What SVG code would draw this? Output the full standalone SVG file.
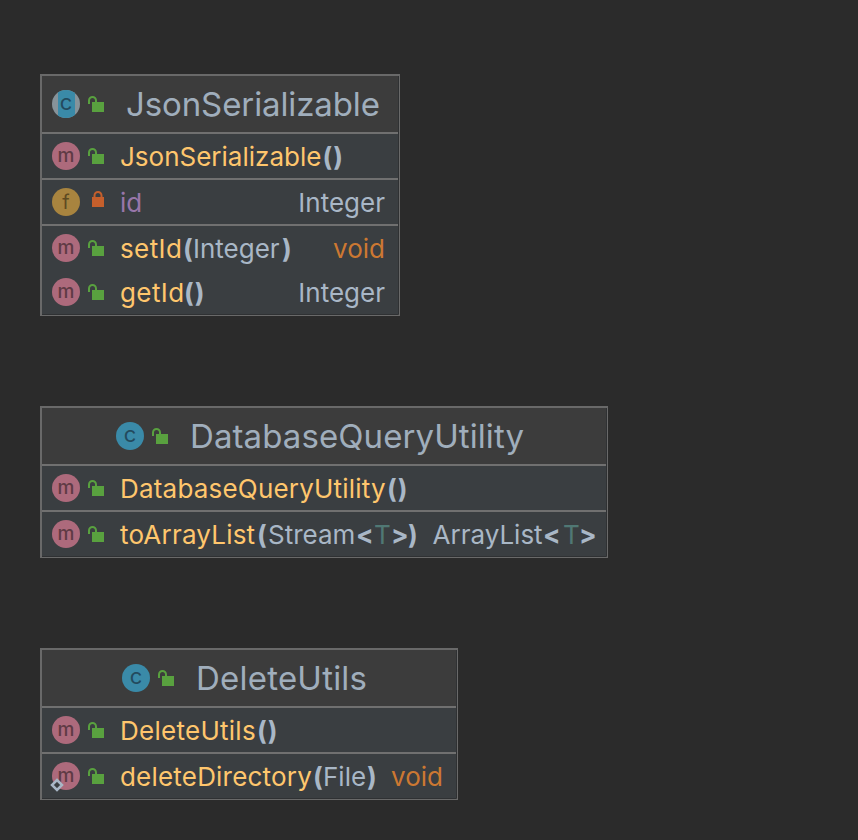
<svg xmlns="http://www.w3.org/2000/svg" xmlns:xlink="http://www.w3.org/1999/xlink" width="858" height="840" viewBox="0 0 858 840">
<style>
text{font-family:Inter,"Noto Sans",sans-serif;font-size:26px;fill:#a9b7c6}
.t{font-size:33px;fill:#a0aebc}
.n{fill:#ffc66d}
.p{fill:#a9b7c6}
.b{font-weight:700;fill:#a9b7c6}
.pp{letter-spacing:1px}
.v{fill:#cc7832}
.f{fill:#9876aa}
.g{fill:#507874}
.box{fill:#3a3e41;stroke:#696969;stroke-width:2}
.hd{fill:#3c3c3c}
.sep{stroke:#707070;stroke-width:2}
.edge{stroke:#2f3133;stroke-width:1;fill:none}
.im{font-size:19px;font-weight:500;fill:#5f3a45;text-anchor:middle}
.ic{font-size:22px;font-weight:400;fill:#234a5e;text-anchor:middle}
.if{font-size:20px;font-weight:400;fill:#5d4a22;text-anchor:middle}
</style>
<defs>
<clipPath id="cc"><circle cx="66" cy="104" r="14"/></clipPath>
<g id="open"><path d="M-7 -1V-4.500A3.500 3.500 0 0 1 0 -4.500V-3" fill="none" stroke="#59a13f" stroke-width="2"/><rect x="-4" y="-3" width="12" height="10" fill="#59a13f"/></g>
<g id="m"><circle r="14" fill="#ad6a7c"/><text class="im" x="0" y="6">m</text></g>
</defs>
<rect width="858" height="840" fill="#2b2b2b"/>
<g id="JsonSerializable">
<rect class="box" x="41" y="75" width="358" height="240"/>
<rect class="hd" x="42" y="76" width="356" height="56"/>
<path class="sep" d="M42 133H398M42 179H398M42 225H398"/>
<path class="edge" d="M398.500 76V314.500H42"/>
<circle cx="66" cy="104" r="14" fill="#87939a"/>
<rect x="58" y="90" width="17" height="28" fill="#3a8aa8" clip-path="url(#cc)"/>
<text class="ic" x="66" y="110">c</text>
<use xlink:href="#open" x="96" y="105"/>
<text class="t" x="126" y="116" textLength="254">JsonSerializable</text>
<use xlink:href="#m" x="66" y="156"/>
<use xlink:href="#open" x="96" y="157"/>
<text class="n" x="120" y="166">JsonSerializable<tspan class="b pp" dx="1">()</tspan></text>
<circle cx="66" cy="202" r="14" fill="#a8843f"/>
<text class="if" x="66" y="209">f</text>
<path d="M94.500 198V195.500A3.500 3.500 0 0 1 101.500 195.500V198" fill="none" stroke="#c55f2c" stroke-width="2"/>
<rect x="92" y="197" width="12" height="10" fill="#c55f2c"/>
<text class="f" x="120" y="212">id</text>
<text x="385" y="212" text-anchor="end">Integer</text>
<use xlink:href="#m" x="66" y="248"/>
<use xlink:href="#open" x="96" y="249"/>
<text class="n" x="120" y="258" letter-spacing="0.4">setId<tspan class="b" x="183">(</tspan><tspan class="p" x="193" letter-spacing="0">Integer</tspan><tspan class="b" x="282">)</tspan></text>
<text class="v" x="385" y="258" text-anchor="end">void</text>
<use xlink:href="#m" x="66" y="292"/>
<use xlink:href="#open" x="96" y="293"/>
<text class="n" x="120" y="302" letter-spacing="0.4">getId<tspan class="b pp" x="184">()</tspan></text>
<text x="385" y="302" text-anchor="end">Integer</text>
</g>
<g id="DatabaseQueryUtility">
<rect class="box" x="41" y="407" width="566" height="150"/>
<rect class="hd" x="42" y="408" width="564" height="56"/>
<path class="sep" d="M42 465H606M42 511H606"/>
<path class="edge" d="M606.500 408V556.500H42"/>
<circle cx="130" cy="436" r="14" fill="#3a8aa8"/>
<text class="ic" x="130" y="442">c</text>
<use xlink:href="#open" x="160" y="437"/>
<text class="t" x="190" y="448" textLength="334">DatabaseQueryUtility</text>
<use xlink:href="#m" x="66" y="488"/>
<use xlink:href="#open" x="96" y="489"/>
<text class="n" x="120" y="498" letter-spacing="0.2">DatabaseQueryUtility<tspan class="b pp" x="387">()</tspan></text>
<use xlink:href="#m" x="66" y="534"/>
<use xlink:href="#open" x="96" y="535"/>
<text class="n" x="120" y="544" letter-spacing="0.2">toArrayList<tspan class="b" x="257">(</tspan><tspan class="p" x="268" letter-spacing="0">Stream</tspan><tspan class="b" x="356">&lt;</tspan><tspan class="g" x="374">T</tspan><tspan class="b" x="391">&gt;</tspan><tspan class="b" x="408">)</tspan></text>
<text x="432.500" y="544">ArrayList<tspan class="b" x="543">&lt;</tspan><tspan class="g" x="563">T</tspan><tspan class="b" x="579">&gt;</tspan></text>
</g>
<g id="DeleteUtils">
<rect class="box" x="41" y="649" width="416" height="150"/>
<rect class="hd" x="42" y="650" width="414" height="56"/>
<path class="sep" d="M42 707H456M42 753H456"/>
<path class="edge" d="M456.500 650V798.500H42"/>
<circle cx="136" cy="678" r="14" fill="#3a8aa8"/>
<text class="ic" x="136" y="684">c</text>
<use xlink:href="#open" x="166" y="679"/>
<text class="t" x="196" y="690" textLength="171">DeleteUtils</text>
<use xlink:href="#m" x="66" y="730"/>
<use xlink:href="#open" x="96" y="731"/>
<text class="n" x="120" y="740" letter-spacing="0.27">DeleteUtils<tspan class="b pp" x="257">()</tspan></text>
<use xlink:href="#m" x="66" y="776"/>
<path d="M57 780L62 785L57 790L52 785Z" fill="#3a3e41" stroke="#a9b7c6" stroke-width="2.500"/>
<use xlink:href="#open" x="96" y="777"/>
<text class="n" x="120" y="786" letter-spacing="0.2">deleteDirectory<tspan class="b" x="313">(</tspan><tspan class="p" x="323" letter-spacing="0">File</tspan><tspan class="b" x="367">)</tspan></text>
<text class="v" x="443" y="786" text-anchor="end">void</text>
</g>
<g id="connectors"/>
</svg>
